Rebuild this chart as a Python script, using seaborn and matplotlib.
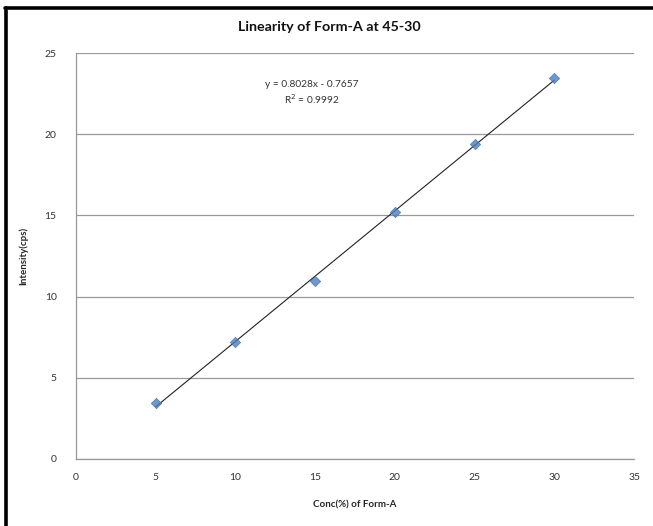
import matplotlib

matplotlib.use("Agg")

import matplotlib.pyplot as plt
import numpy as np
import pandas as pd
import seaborn as sns
from matplotlib.lines import Line2D

# Werte
conc = [5, 10, 15, 20, 25, 30]
intensity = [3.45, 7.2, 10.96, 15.2, 19.4, 23.45]
x_ticks = [0, 5, 10, 15, 20, 25, 30, 35]
y_ticks = [0, 5, 10, 15, 20, 25]

df = pd.DataFrame({"conc": conc, "intensity": intensity})

sns.set_theme(style="white")
plt.rcParams["font.family"] = ["Lato", "DejaVu Sans"]

fig = plt.figure(figsize=(6.53, 5.26), dpi=100)
ax = fig.add_axes([0.1164, 0.1274, 0.8546, 0.7716])

sns.regplot(
    data=df,
    x="conc",
    y="intensity",
    ax=ax,
    ci=None,
    marker="D",
    scatter_kws={"s": 28, "color": "#4A7EBB", "edgecolors": "#3C6CA8", "linewidths": 0.5, "zorder": 3},
    line_kws={"color": "#222222", "linewidth": 0.8, "zorder": 2},
)

ax.set_xlim(0, 35)
ax.set_ylim(0, 25)
ax.set_xticks(x_ticks)
ax.set_yticks(y_ticks)
ax.yaxis.grid(True, color="#999999", linewidth=0.9)
ax.set_axisbelow(True)
ax.tick_params(axis="both", length=0, labelsize=7.5, labelcolor="#333333")
ax.tick_params(axis="x", pad=10)
ax.tick_params(axis="y", pad=14)

for side in ["top", "right"]:
    ax.spines[side].set_visible(False)
for side in ["left", "bottom"]:
    ax.spines[side].set_color("#999999")
    ax.spines[side].set_linewidth(0.9)

ax.set_xlabel("Conc(%) of Form-A", fontsize=7, fontweight="bold", labelpad=13)
ax.set_ylabel("Intensity(cps)", fontsize=7, fontweight="bold", labelpad=12)
fig.text(0.505, 0.948, "Linearity of Form-A at 45-30", fontsize=10.3,
         fontweight="bold", ha="center", va="center", color="#111111")

ax.text(
    0.422, 0.935,
    "y = 0.8028x - 0.7657\nR$^2$ = 0.9992",
    transform=ax.transAxes,
    ha="center",
    va="top",
    fontsize=7.3,
    color="#333333",
    linespacing=1.3,
)

# Schwarzer Rahmen wie im Screenshot (links und oben)
fig.add_artist(Line2D([0.0092, 0.0092], [0.0, 0.985], color="black", linewidth=2.6, transform=fig.transFigure))
fig.add_artist(Line2D([0.0072, 1.0], [0.985, 0.985], color="black", linewidth=2.6, transform=fig.transFigure))

fig.savefig("out.png", dpi=100)
plt.close(fig)
